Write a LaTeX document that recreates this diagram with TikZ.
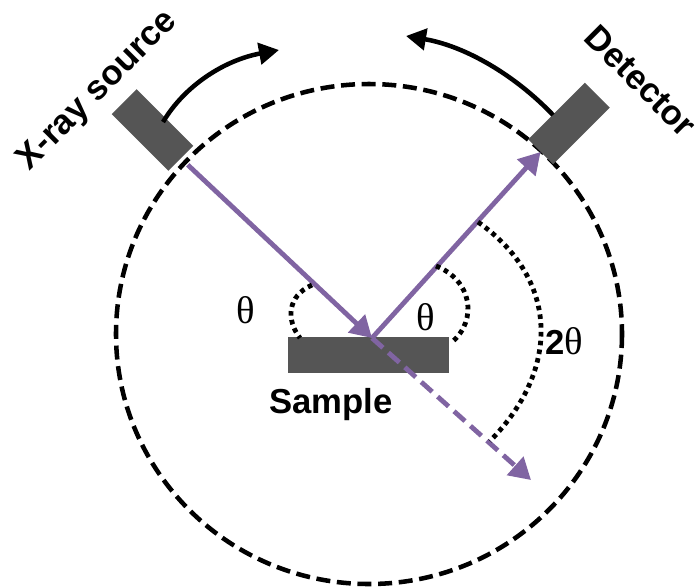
\documentclass[tikz,border=0pt]{standalone}
\usepackage{fontspec}
\setmainfont{Liberation Sans}
\newfontfamily\thetafont{Liberation Serif}
\usetikzlibrary{arrows.meta}
\definecolor{beam}{HTML}{8064A2}
\definecolor{block}{HTML}{555555}
\tikzset{
  px/.style={x=0.75pt,y=-0.75pt},
  blockbox/.style={fill=block,draw=none,inner sep=0pt,minimum width=60pt,minimum height=26.5pt},
  beamline/.style={color=beam,line width=3.6pt},
  beamtip/.style={-{Triangle[length=16pt,width=18pt]}},
  moveline/.style={black,line width=3.4pt,-{Triangle[length=15pt,width=16pt]}},
  dotline/.style={black,line width=3.6pt,dash pattern=on 3.4pt off 3.2pt},
  circleline/.style={black,line width=3.4pt,dash pattern=on 10.5pt off 5pt},
  bigtext/.style={font=\bfseries\fontsize{26}{30}\selectfont,inner sep=0pt},
  thetatext/.style={font=\thetafont\fontsize{29}{32}\selectfont,inner sep=0pt},
}
\begin{document}
\begin{tikzpicture}[px]
\useasboundingbox (0,0) rectangle (700,587);
\coordinate (centre) at (369,334);
\draw[circleline] (centre) circle[x radius=253,y radius=250];
\node[blockbox,rotate=-45] (source) at (152.5,130) {};
\node[blockbox,rotate=45] (detector) at (569,123.5) {};
\node[blockbox,minimum width=120.75pt,minimum height=27pt] (sample) at (368.5,355) {};
\coordinate (hit) at (372,338);
\coordinate (exit) at (531,480);
\coordinate (sourcearcstart) at (163,122);
\coordinate (sourcearcend) at (279,50);
\coordinate (detarcstart) at (553,115);
\coordinate (detarcend) at (406,36);
\draw[beamline,beamtip,shorten <=7pt] (source.east) -- (hit);
\draw[beamline,beamtip] (hit) -- (detector.west);
\draw[beamline,beamtip,dash pattern=on 11pt off 5.5pt] (hit) -- (exit);
\draw[moveline] (sourcearcstart) .. controls (185,85) and (225,60) .. (sourcearcend);
\draw[moveline] (detarcstart) .. controls (515,75) and (465,46) .. (detarcend);
\draw[dotline] (312,285) .. controls (287,296) and (286,320) .. (300,338);
\draw[dotline] (436,266) .. controls (472,280) and (478,320) .. (452,342);
\draw[dotline] (478,222) .. controls (560,280) and (560,370) .. (490,441);
\node[bigtext,rotate=45] (sourcelabel) at (98,91) {X-ray source};
\node[bigtext,rotate=-45] (detectorlabel) at (641,81) {Detector};
\node[bigtext] (samplelabel) at (331,405) {Sample};
\node[thetatext] (thetaleft) at (246,310) {θ};
\node[thetatext] (thetaright) at (426,317) {θ};
\node[bigtext] (twotheta) at (564,341) {2{\thetafont\mdseries\fontsize{29}{32}\selectfont θ}};
\end{tikzpicture}
\end{document}
